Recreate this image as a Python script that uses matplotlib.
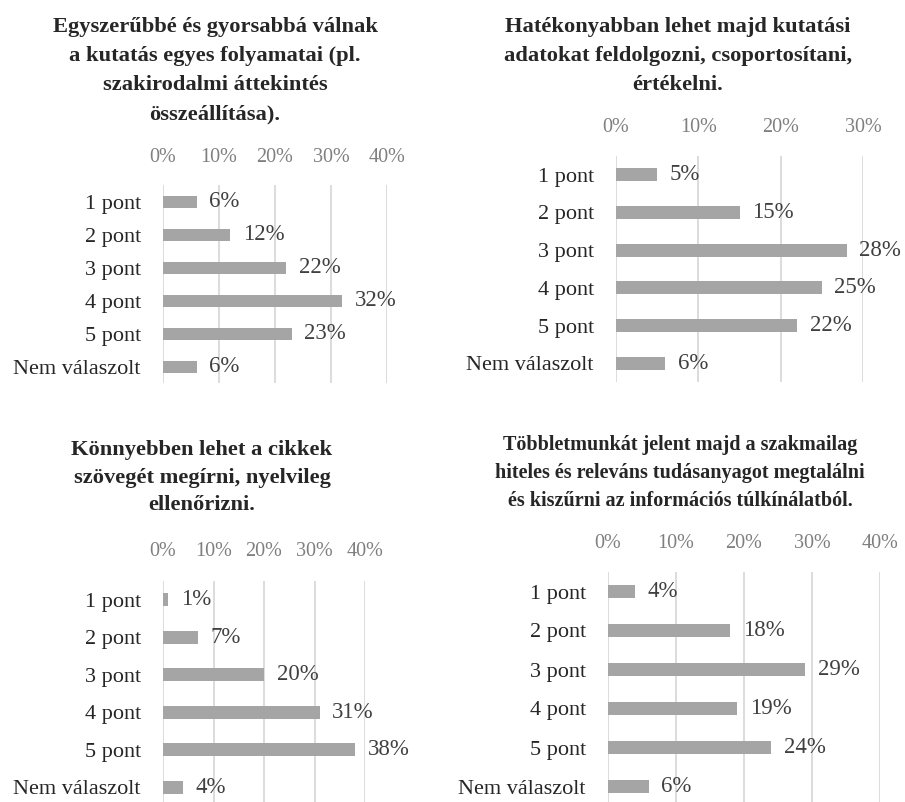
import matplotlib
matplotlib.use("Agg")
import matplotlib.pyplot as plt

plt.rcParams['font.family'] = ['Liberation Serif', 'DejaVu Serif']

categories = ["1 pont", "2 pont", "3 pont", "4 pont", "5 pont", "Nem válaszolt"]

titles = [
    "Egyszerűbbé és gyorsabbá válnak\na kutatás egyes folyamatai (pl.\nszakirodalmi áttekintés\nösszeállítása).",
    "Hatékonyabban lehet majd kutatási\nadatokat feldolgozni, csoportosítani,\nértékelni.",
    "Könnyebben lehet a cikkek\nszövegét megírni, nyelvileg\nellenőrizni.",
    "Többletmunkát jelent majd a szakmailag\nhiteles és releváns tudásanyagot megtalálni\nés kiszűrni az információs túlkínálatból.",
]

vals_1 = [6, 12, 22, 32, 23, 6]
vals_2 = [5, 15, 28, 25, 22, 6]
vals_3 = [1, 7, 20, 31, 38, 4]
vals_4 = [4, 18, 29, 19, 24, 6]
values = [vals_1, vals_2, vals_3, vals_4]

x_max = [40, 30, 40, 40]

W, H = 905, 802
fig = plt.figure(figsize=(W / 100, H / 100), dpi=100)

# axes boxes in pixels: left, right, top, bottom
boxes = [
    (163, 387, 185.5, 383.5),
    (616, 863, 156, 382),
    (163, 365, 581, 806),
    (608, 880, 572, 806),
]
# title centre x, top y, font size, line spacing
title_pos = [
    (215, 17, 16.2, 1.6),
    (678, 17, 16.2, 1.6),
    (202, 440, 16.2, 1.5),
    (680, 435, 14.5, 1.55),
]
tick_y = [157, 128, 552, 543]

BAR = "#a5a5a5"
GRID = "#d9d9d9"

for i in range(4):
    l, r, t, b = boxes[i]
    ax = fig.add_axes([l / W, 1 - b / H, (r - l) / W, (b - t) / H])
    y = list(range(len(categories)))
    ax.barh(y, values[i], height=0.34, color=BAR, zorder=2)
    ax.set_xlim(0, x_max[i])
    ax.set_ylim(len(categories) - 0.5, -0.5)
    ax.set_yticks(y)
    ax.set_yticklabels(categories, fontsize=16, color="#262626")
    ticks = list(range(0, x_max[i] + 1, 10))
    ax.set_xticks(ticks)
    ax.set_xticklabels([])
    ax.tick_params(axis="y", length=0, pad=16)
    ax.tick_params(axis="x", length=0)
    ax.xaxis.grid(True, color=GRID, linewidth=1.3, zorder=0)
    for s in ax.spines.values():
        s.set_visible(False)
    ax.set_facecolor("none")
    # percentage scale above the plot
    for tv in ticks:
        xp = l + (r - l) * tv / x_max[i]
        fig.text(xp / W, 1 - tick_y[i] / H, f"{tv}%", ha="center", va="center",
                 fontsize=14.5, color="#7f7f7f")
    for yy, v in zip(y, values[i]):
        ax.annotate(f"{v}%", (v, yy), xytext=(9, 0), textcoords="offset points",
                    ha="left", va="center", fontsize=16.5, color="#404040",
                    annotation_clip=False)
    cx, ty, fs, ls = title_pos[i]
    fig.text(cx / W, 1 - ty / H, titles[i], ha="center", va="top",
             fontsize=fs, fontweight="bold", color="#262626", linespacing=ls)

fig.savefig("out.png", dpi=100, facecolor="white")
